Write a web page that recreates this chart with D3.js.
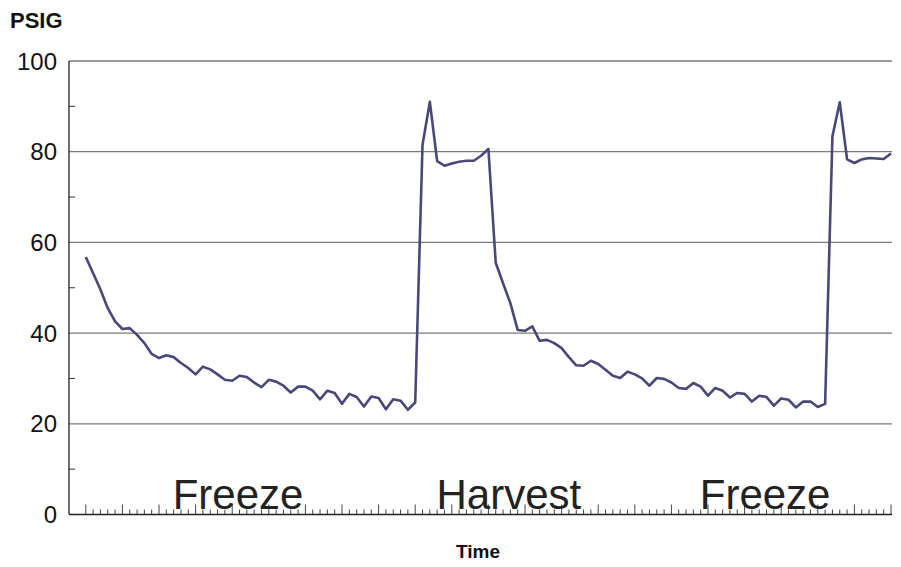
<!DOCTYPE html>
<html>
<head>
<meta charset="utf-8">
<script src="https://cdn.jsdelivr.net/npm/d3@7"></script>
<style>
  body { margin: 0; background: #fff; }
  svg { display: block; font-family: "Liberation Sans", Arial, sans-serif; }
</style>
</head>
<body>
<svg id="chart"></svg>
<script>
// pressure readings, one per time tick
var psig = [
    56.8, 53.2, 49.6, 45.5, 42.6, 40.9, 41.1, 39.6, 37.8, 35.4,
    34.5, 35.1, 34.7, 33.4, 32.3, 30.9, 32.6, 32.0, 30.9, 29.7,
    29.5, 30.6, 30.3, 29.1, 28.1, 29.7, 29.3, 28.4, 26.9, 28.2,
    28.2, 27.3, 25.4, 27.3, 26.8, 24.4, 26.6, 25.9, 23.8, 26.0,
    25.7, 23.2, 25.4, 25.1, 23.1, 24.7, 81.5, 91.0, 77.9, 76.9,
    77.4, 77.8, 78.0, 78.0, 79.1, 80.6, 55.5, 51.0, 46.6, 40.7,
    40.5, 41.5, 38.3, 38.5, 37.8, 36.7, 34.7, 32.9, 32.8, 33.9,
    33.2, 31.9, 30.6, 30.1, 31.5, 30.9, 30.0, 28.4, 30.1, 29.9,
    29.1, 27.9, 27.7, 29.0, 28.2, 26.2, 27.9, 27.3, 25.8, 26.8,
    26.6, 24.9, 26.2, 25.9, 24.0, 25.6, 25.3, 23.6, 24.9, 24.9,
    23.7, 24.4, 83.4, 90.9, 78.3, 77.5, 78.3, 78.6, 78.5, 78.4,
    79.6
];

var yTicks = [0, 20, 40, 60, 80, 100];
var yMinorTicks = [10, 30, 50, 70, 90];

// phase labels and the tick index they sit over
var phaseNames = ["Freeze", "Harvest", "Freeze"];
var phaseCenters = [20.8, 57.8, 92.8];

var width = 901, height = 567;
var svg = d3.select("#chart").attr("width", width).attr("height", height);

var xScale = d3.scaleLinear()
    .domain([0, psig.length - 1])
    .range([85.8, 891]);

var yScale = d3.scaleLinear()
    .domain([0, 100])
    .range([514.5, 61]);

var axisLeftX = 69, plotRight = 892;

// gridlines
svg.append("g").selectAll("line")
    .data(yTicks.slice(1))
    .enter().append("line")
    .attr("x1", axisLeftX).attr("x2", plotRight)
    .attr("y1", function(d) { return yScale(d); })
    .attr("y2", function(d) { return yScale(d); })
    .attr("stroke", "#7a7a7a")
    .attr("stroke-width", 1.3);

// y axis: minor ticks point inward
svg.append("g").selectAll("line")
    .data(yMinorTicks)
    .enter().append("line")
    .attr("x1", axisLeftX).attr("x2", axisLeftX + 6)
    .attr("y1", function(d) { return yScale(d); })
    .attr("y2", function(d) { return yScale(d); })
    .attr("stroke", "#333")
    .attr("stroke-width", 1);

svg.append("line")
    .attr("x1", axisLeftX).attr("x2", axisLeftX)
    .attr("y1", yScale(100)).attr("y2", yScale(0))
    .attr("stroke", "#222")
    .attr("stroke-width", 1.3);

svg.append("g").selectAll("text")
    .data(yTicks)
    .enter().append("text")
    .attr("x", 57)
    .attr("y", function(d) { return yScale(d); })
    .attr("dy", "0.36em")
    .attr("text-anchor", "end")
    .attr("font-size", 24)
    .attr("fill", "#111")
    .text(function(d) { return d; });

// x axis with a tick per reading, longer every fifth
var xTickIdx = d3.range(psig.length);
svg.append("g").selectAll("line")
    .data(xTickIdx)
    .enter().append("line")
    .attr("x1", function(d) { return xScale(d); })
    .attr("x2", function(d) { return xScale(d); })
    .attr("y1", yScale(0))
    .attr("y2", function(d) { return yScale(0) - (d % 5 === 0 ? 10 : 5); })
    .attr("stroke", "#444")
    .attr("stroke-width", 1);

svg.append("line")
    .attr("x1", axisLeftX).attr("x2", plotRight)
    .attr("y1", yScale(0)).attr("y2", yScale(0))
    .attr("stroke", "#222")
    .attr("stroke-width", 1.3);

// phase annotations
svg.append("g").selectAll("text")
    .data(phaseNames)
    .enter().append("text")
    .attr("x", function(d, i) { return xScale(phaseCenters[i]); })
    .attr("y", 509)
    .attr("text-anchor", "middle")
    .attr("font-size", 42)
    .attr("fill", "#222")
    .text(function(d) { return d; });

// the pressure line
var line = d3.line()
    .x(function(d, i) { return xScale(i); })
    .y(function(d) { return yScale(d); });

svg.append("path")
    .datum(psig)
    .attr("d", line)
    .attr("fill", "none")
    .attr("stroke", "#4a4878")
    .attr("stroke-width", 2.6)
    .attr("stroke-linejoin", "round");

// axis titles
svg.append("text")
    .attr("x", 10).attr("y", 28)
    .attr("font-size", 22)
    .attr("font-weight", "bold")
    .attr("fill", "#111")
    .text("PSIG");

svg.append("text")
    .attr("x", 478).attr("y", 558)
    .attr("text-anchor", "middle")
    .attr("font-size", 19)
    .attr("font-weight", "bold")
    .attr("fill", "#111")
    .text("Time");
</script>
</body>
</html>
